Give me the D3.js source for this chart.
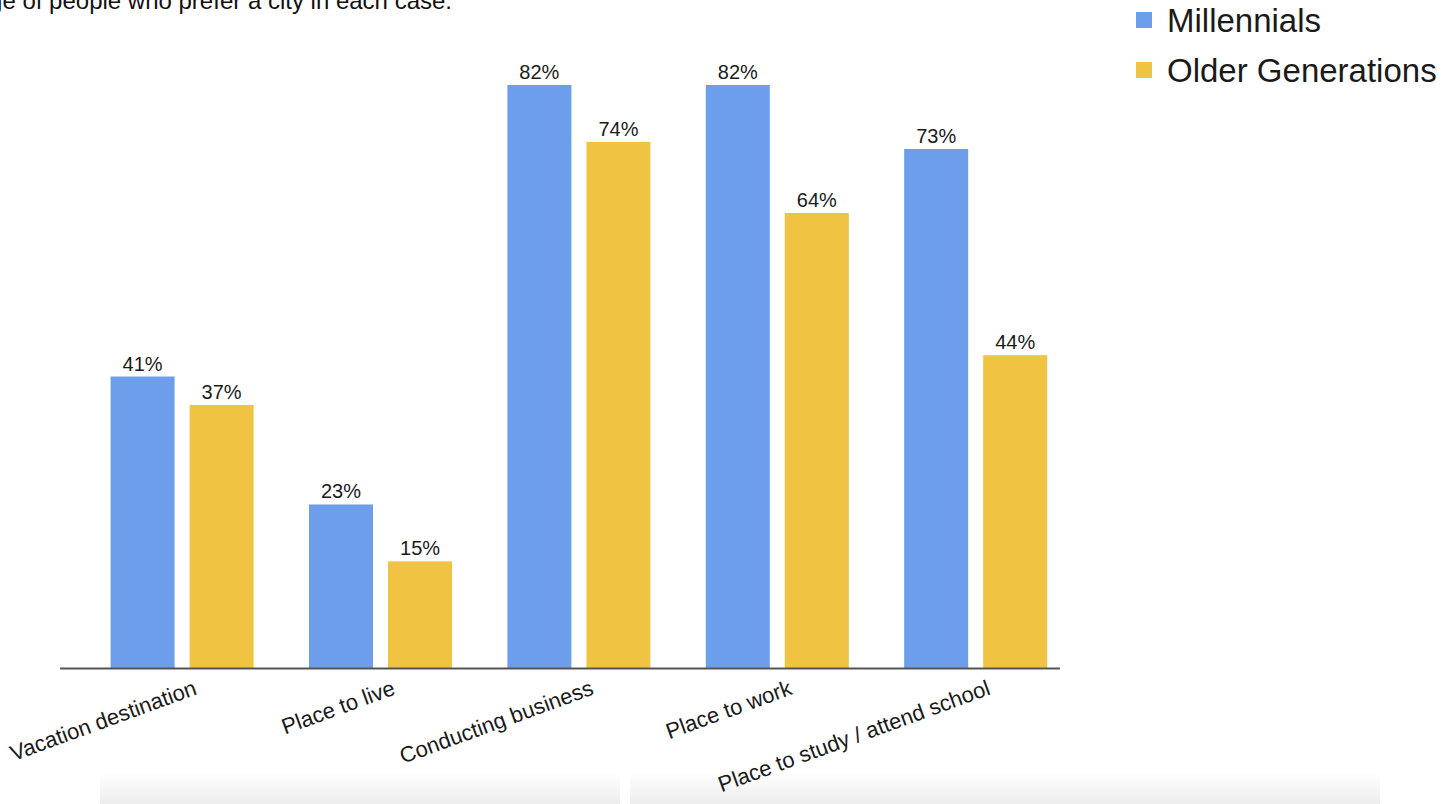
<!DOCTYPE html>
<html>
<head>
<meta charset="utf-8">
<script src="https://cdn.jsdelivr.net/npm/d3@7"></script>
<style>
  html, body { margin: 0; padding: 0; background: #fff; }
  svg { display: block; }
  text { font-family: "Liberation Sans", Arial, sans-serif; }
</style>
</head>
<body>
<svg id="chart" width="1451" height="804"></svg>
<script>
const categories = ["Vacation destination", "Place to live", "Conducting business", "Place to work", "Place to study / attend school"];
const seriesNames = ["Millennials", "Older Generations"];
const millennials = [41, 23, 82, 82, 73];
const olderGenerations = [37, 15, 74, 64, 44];
const colors = ["#6d9eeb", "#f1c342"];
const titleText = "Percentage of people who prefer a city in each case.";

const svg = d3.select("#chart");

// bottom faint shadow strips (screenshot artefact)
const defs = svg.append("defs");
const grad = defs.append("linearGradient").attr("id", "shade").attr("x1", 0).attr("y1", 0).attr("x2", 0).attr("y2", 1);
grad.append("stop").attr("offset", "0%").attr("stop-color", "#ffffff");
grad.append("stop").attr("offset", "100%").attr("stop-color", "#ededed");
svg.append("rect").attr("x", 100).attr("y", 772).attr("width", 520).attr("height", 32).attr("fill", "url(#shade)");
svg.append("rect").attr("x", 630).attr("y", 772).attr("width", 750).attr("height", 32).attr("fill", "url(#shade)");

// title (cut at the top/left edge as in the reference)
svg.append("text")
  .attr("x", 452).attr("y", 9)
  .attr("text-anchor", "end")
  .attr("font-size", 24)
  .attr("fill", "#111")
  .text(titleText);

const baseY = 668;
const x0 = d3.scaleBand().domain(categories).range([110.6, 1047.2]).paddingInner(0.279).paddingOuter(0);
const x1 = d3.scaleBand().domain(seriesNames).range([0, x0.bandwidth()]).paddingInner(0.19).paddingOuter(0);
const y = d3.scaleLinear().domain([0, 82]).range([baseY, 85]);

const data = categories.map((c, i) => ({
  cat: c,
  vals: [
    { s: seriesNames[0], v: millennials[i], c: colors[0] },
    { s: seriesNames[1], v: olderGenerations[i], c: colors[1] }
  ]
}));

const groups = svg.append("g").selectAll("g").data(data).join("g")
  .attr("transform", d => `translate(${x0(d.cat)},0)`);

groups.selectAll("rect").data(d => d.vals).join("rect")
  .attr("x", d => x1(d.s))
  .attr("y", d => y(d.v))
  .attr("width", x1.bandwidth())
  .attr("height", d => baseY - y(d.v))
  .attr("fill", d => d.c);

groups.selectAll("text").data(d => d.vals).join("text")
  .attr("x", d => x1(d.s) + x1.bandwidth() / 2)
  .attr("y", d => y(d.v) - 6)
  .attr("text-anchor", "middle")
  .attr("font-size", 20)
  .attr("fill", "#1a1a1a")
  .text(d => d.v + "%");

// axis baseline
svg.append("line")
  .attr("x1", 60).attr("x2", 1060)
  .attr("y1", baseY + 0.5).attr("y2", baseY + 0.5)
  .attr("stroke", "#555").attr("stroke-width", 2);

// category labels rotated
svg.append("g").selectAll("text").data(categories).join("text")
  .attr("transform", d => `translate(${x0(d) + x0.bandwidth() / 2 + 16},${baseY + 26}) rotate(-20)`)
  .attr("text-anchor", "end")
  .attr("font-size", 22)
  .attr("fill", "#1a1a1a")
  .text(d => d);

// legend
const legend = svg.append("g").selectAll("g").data(seriesNames).join("g")
  .attr("transform", (d, i) => `translate(1136,${12 + i * 50})`);
legend.append("rect").attr("width", 16).attr("height", 16).attr("fill", (d, i) => colors[i]);
legend.append("text")
  .attr("x", 31).attr("y", 20)
  .attr("font-size", 33)
  .attr("fill", "#1a1a1a")
  .text(d => d);
</script>
</body>
</html>
